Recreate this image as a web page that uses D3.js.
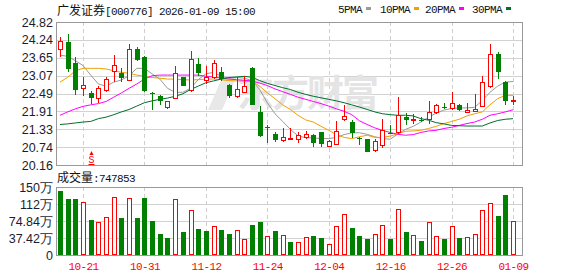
<!DOCTYPE html>
<html>
<head>
<meta charset="utf-8">
<script src="https://cdn.jsdelivr.net/npm/d3@7"></script>
<style>
  body { margin: 0; background: #fff; }
  svg { display: block; }
</style>
</head>
<body>
<svg id="chart"></svg>
<script>

// trading days shown on the chart (2025-10-16 .. 2026-01-09)
var dates = [
    '10-16', '10-17', '10-20', '10-21', '10-22', '10-23', '10-24', '10-27', '10-28', '10-29',
    '10-30', '10-31', '11-03', '11-04', '11-05', '11-06', '11-07', '11-10', '11-11', '11-12',
    '11-13', '11-14', '11-17', '11-18', '11-19', '11-20', '11-21', '11-24', '11-25', '11-26',
    '11-27', '11-28', '12-01', '12-02', '12-03', '12-04', '12-05', '12-08', '12-09', '12-10',
    '12-11', '12-12', '12-15', '12-16', '12-17', '12-18', '12-19', '12-22', '12-23', '12-24',
    '12-25', '12-26', '12-29', '12-30', '12-31', '01-05', '01-06', '01-07', '01-08', '01-09'
];

var opens = [
    23.94, 24.18, 23.47, 22.67, 22.51, 22.35, 22.62, 23.22, 23.16, 22.92,
    23.94, 23.67, 22.51, 22.42, 22.06, 22.35, 23.02, 22.62, 23.45, 22.94,
    23.02, 23.18, 22.78, 22.40, 22.55, 23.31, 21.89, 21.40, 21.18, 20.99,
    21.01, 21.02, 21.08, 21.13, 21.22, 20.77, 20.86, 21.67, 21.56, 21.04,
    21.00, 20.64, 20.81, 21.20, 21.22, 21.72, 21.64, 21.64, 21.65, 21.89,
    22.04, 22.01, 22.12, 21.89, 21.92, 22.08, 22.73, 23.77, 22.88, 22.23
];
var highs = [
    24.33, 24.42, 23.67, 23.04, 22.56, 22.75, 23.02, 23.74, 23.32, 24.10,
    24.02, 23.72, 22.53, 22.44, 22.26, 23.40, 23.04, 23.86, 23.64, 23.37,
    23.59, 23.36, 22.80, 23.04, 23.05, 23.36, 22.07, 21.45, 21.24, 21.35,
    21.37, 21.24, 21.26, 21.18, 21.24, 20.97, 21.58, 22.12, 21.64, 21.08,
    21.02, 21.00, 21.67, 21.45, 22.37, 21.86, 21.83, 21.74, 22.26, 22.16,
    22.19, 22.55, 22.16, 22.19, 22.48, 23.07, 24.10, 23.83, 22.89, 22.42
];
var lows = [
    23.67, 23.18, 22.45, 22.42, 22.15, 22.19, 22.53, 22.88, 22.85, 22.89,
    23.54, 22.55, 21.96, 22.12, 21.99, 22.32, 22.73, 22.55, 23.07, 22.80,
    22.96, 22.91, 22.34, 22.34, 22.51, 22.10, 21.08, 20.88, 20.91, 20.91,
    21.00, 20.88, 21.00, 20.75, 20.75, 20.75, 20.81, 21.58, 21.04, 20.81,
    20.57, 20.57, 20.73, 21.16, 21.18, 21.45, 21.48, 21.56, 21.51, 21.81,
    21.99, 21.96, 21.91, 21.86, 21.91, 22.05, 22.66, 22.96, 22.12, 22.10
];
var closes = [
    24.21, 23.29, 22.62, 22.77, 22.34, 22.68, 22.96, 23.42, 22.99, 23.94,
    23.58, 22.56, 22.46, 22.24, 22.23, 23.16, 22.75, 23.61, 23.15, 23.04,
    23.47, 22.96, 22.42, 22.64, 22.75, 22.12, 21.11, 21.38, 20.97, 21.06,
    21.05, 21.15, 21.18, 20.88, 20.85, 20.94, 21.28, 21.76, 21.21, 21.02,
    20.59, 20.94, 21.31, 21.18, 21.80, 21.62, 21.67, 21.58, 21.89, 22.10,
    22.01, 22.19, 21.94, 21.94, 21.99, 22.86, 23.77, 23.18, 22.26, 22.29
];

var ma5 = [
    23.74, 23.70, 23.56, 23.40, 23.09, 22.80, 22.73, 22.86, 22.93, 23.07,
    23.31, 23.31, 23.13, 22.96, 22.66, 22.53, 22.53, 22.66, 22.94, 23.13,
    23.18, 23.05, 22.99, 23.01, 22.99, 22.91, 22.62, 22.19, 21.83, 21.58,
    21.32, 21.11, 21.05, 21.04, 21.02, 21.02, 21.06, 21.15, 21.21, 21.21,
    21.16, 21.08, 21.02, 21.00, 21.17, 21.32, 21.42, 21.56, 21.72, 21.85,
    21.95, 22.00, 22.02, 22.02, 22.04, 22.26, 22.53, 22.73, 22.86, 22.88
];
var ma10 = [
    22.86, 23.02, 23.23, 23.31, 23.31, 23.31, 23.29, 23.23, 23.18, 23.15,
    23.09, 23.05, 23.01, 22.99, 22.96, 22.96, 22.94, 22.93, 22.94, 22.96,
    22.96, 22.94, 22.91, 22.90, 22.89, 22.88, 22.73, 22.51, 22.32, 22.12,
    21.97, 21.78, 21.63, 21.56, 21.42, 21.29, 21.15, 21.06, 21.02, 21.08,
    21.13, 21.06, 21.06, 21.10, 21.18, 21.26, 21.27, 21.29, 21.35, 21.42,
    21.51, 21.58, 21.65, 21.76, 21.83, 21.89, 22.12, 22.32, 22.43, 22.43
];
var ma20 = [
    21.78, 21.89, 21.99, 22.07, 22.12, 22.16, 22.23, 22.37, 22.51, 22.66,
    22.80, 22.96, 23.07, 23.09, 23.09, 23.09, 23.09, 23.09, 23.09, 23.05,
    23.03, 22.99, 22.96, 22.94, 22.92, 22.90, 22.83, 22.75, 22.64, 22.55,
    22.46, 22.37, 22.30, 22.23, 22.16, 22.08, 21.99, 21.91, 21.80, 21.60,
    21.48, 21.37, 21.29, 21.22, 21.16, 21.13, 21.15, 21.22, 21.27, 21.29,
    21.35, 21.39, 21.45, 21.51, 21.56, 21.65, 21.78, 21.83, 21.89, 21.96
];
var ma30 = [
    21.48, 21.50, 21.53, 21.56, 21.58, 21.67, 21.72, 21.80, 21.89, 21.97,
    22.08, 22.19, 22.25, 22.30, 22.34, 22.40, 22.48, 22.62, 22.73, 22.84,
    22.90, 22.96, 23.01, 23.03, 23.05, 23.02, 22.91, 22.82, 22.75, 22.68,
    22.62, 22.53, 22.46, 22.40, 22.35, 22.30, 22.25, 22.19, 22.12, 22.05,
    21.97, 21.89, 21.83, 21.80, 21.78, 21.78, 21.76, 21.67, 21.62, 21.54,
    21.50, 21.45, 21.44, 21.43, 21.43, 21.43, 21.53, 21.61, 21.65, 21.67
];

// volume in 万 (10k lots), colour by close vs previous close: R up, G down
var volumes = [
    140.9, 123.3, 123.3, 117.4, 77.0, 71.9, 82.9, 126.9, 81.4, 124.7,
    81.4, 124.7, 74.8, 46.2, 37.4, 123.3, 50.6, 98.3, 57.2, 52.8,
    63.1, 54.3, 46.2, 54.3, 34.5, 65.3, 71.9, 41.1, 52.1, 43.3,
    27.9, 29.3, 38.9, 41.8, 37.4, 23.5, 63.1, 89.5, 59.4, 41.8,
    35.2, 45.5, 65.3, 35.2, 101.3, 50.6, 43.3, 30.8, 71.9, 41.1,
    35.2, 63.1, 37.4, 38.9, 45.5, 98.3, 113.7, 85.8, 132.1, 74.79
];
var volumeDir = 'GGGRGRRRGR' + 'GGGGGRGRGG' + 'RGGRRGGRGR' +
                'GRRGGRRRGG' + 'GRRGRGRGRR' + 'GRGRRRRGGR';

var priceTicks = [20.16, 20.7425, 21.325, 21.9075, 22.49, 23.0725, 23.655, 24.2375, 24.82];
var priceLabels = ['20.16', '20.74', '21.33', '21.91', '22.49', '23.07', '23.65', '24.24', '24.82'];
var volumeTicks = [0, 37.42, 74.84, 112.26, 149.68];
var volumeLabels = ['0', '37.42万', '74.84万', '112万', '150万'];
var dateTicks = ['10-21', '10-31', '11-12', '11-24', '12-04', '12-16', '12-26', '01-09'];

var maSeries = [
    { name: '5PMA', values: ma5, color: '#9a9a9a' },
    { name: '10PMA', values: ma10, color: '#f0a000' },
    { name: '20PMA', values: ma20, color: '#ff00ff' },
    { name: '30PMA', values: ma30, color: '#006e2e' }
];

var RED = '#ff0000';
var GREEN = '#008000';

var config = {
    width: 578,
    height: 276,
    left: 56,
    right: 522,
    priceTop: 22,
    priceBottom: 165,
    volTop: 187,
    volBottom: 255
};

var svg = d3.select('#chart')
    .attr('width', config.width)
    .attr('height', config.height)
    .style('font-family', 'Arial, "Liberation Sans", sans-serif');

var x = d3.scalePoint().domain(dates).range([60, 513]);
var y = d3.scaleLinear().domain([20.16, 24.82]).range([config.priceBottom, config.priceTop]);
var yVol = d3.scaleLinear().domain([0, 149.68]).range([config.volBottom, config.volTop]);

var candles = dates.map(function (d, i) {
    return { date: d, open: opens[i], high: highs[i], low: lows[i], close: closes[i] };
});

/**
 * Grid lines and frame for one panel
 */
function drawPanel(top, bottom, scale, ticks) {
    var g = svg.append('g').attr('class', 'panel');

    g.selectAll('.hgrid').data(ticks.slice(1, -1)).enter()
        .append('line')
        .attr('x1', config.left).attr('x2', config.right)
        .attr('y1', function (d) { return Math.round(scale(d)) + 0.5; })
        .attr('y2', function (d) { return Math.round(scale(d)) + 0.5; })
        .attr('stroke', '#d2d2d2');

    g.selectAll('.vgrid').data(dateTicks).enter()
        .append('line')
        .attr('x1', function (d) { return Math.round(x(d)) + 0.5; })
        .attr('x2', function (d) { return Math.round(x(d)) + 0.5; })
        .attr('y1', top).attr('y2', bottom)
        .attr('stroke', '#cfcfcf')
        .attr('stroke-dasharray', '4,3');

    g.append('rect')
        .attr('x', config.left + 0.5).attr('y', top + 0.5)
        .attr('width', config.right - config.left)
        .attr('height', bottom - top)
        .attr('fill', 'none')
        .attr('stroke', '#999');
    return g;
}

drawPanel(config.priceTop, config.priceBottom, y, priceTicks);
drawPanel(config.volTop, config.volBottom, yVol, volumeTicks);

// watermark
svg.append('text')
    .attr('x', 237).attr('y', 107)
    .attr('font-family', '"Noto Sans CJK SC", sans-serif')
    .attr('font-size', 37)
    .attr('font-weight', 'bold')
    .attr('fill', '#e4e4e4')
    .attr('letter-spacing', -2)
    .text('东方财富');
svg.append('path')
    .attr('d', 'M222,78 L236,78 L222,110 L208,110 Z')
    .attr('fill', '#e8e8e8');

// axes
var priceAxis = svg.append('g')
    .attr('transform', 'translate(' + config.left + ',0)')
    .call(d3.axisLeft(y).tickValues(priceTicks)
        .tickFormat(function (d, i) { return priceLabels[i]; })
        .tickSize(0).tickPadding(3));
var volAxis = svg.append('g')
    .attr('transform', 'translate(' + config.left + ',0)')
    .call(d3.axisLeft(yVol).tickValues(volumeTicks)
        .tickFormat(function (d, i) { return volumeLabels[i]; })
        .tickSize(0).tickPadding(3));
[priceAxis, volAxis].forEach(function (a) {
    a.select('.domain').remove();
    a.selectAll('text')
        .attr('font-family', 'Arial, "Liberation Sans", sans-serif')
        .attr('font-size', 12.5)
        .attr('fill', '#1c1c30');
});

var dateAxis = svg.append('g')
    .attr('transform', 'translate(0,' + config.volBottom + ')')
    .call(d3.axisBottom(x).tickValues(dateTicks).tickSize(0).tickPadding(0));
dateAxis.select('.domain').remove();
dateAxis.selectAll('text')
    .attr('y', 15).attr('dy', 0)
    .attr('font-family', '"Liberation Mono", monospace')
    .attr('font-size', 11)
    .attr('letter-spacing', -0.6)
    .attr('fill', RED);

// moving averages
var maLine = d3.line()
    .x(function (v, i) { return x(dates[i]); })
    .y(function (v) { return y(v); });

svg.append('g').attr('class', 'ma')
    .selectAll('path').data(maSeries).enter()
    .append('path')
    .attr('d', function (s) { return maLine(s.values); })
    .attr('fill', 'none')
    .attr('stroke', function (s) { return s.color; })
    .attr('stroke-width', 1);

// candles
var candleG = svg.append('g').attr('class', 'candles')
    .selectAll('g').data(candles).enter()
    .append('g');

candleG.append('line')
    .attr('x1', function (d) { return Math.round(x(d.date)) + 0.5; })
    .attr('x2', function (d) { return Math.round(x(d.date)) + 0.5; })
    .attr('y1', function (d) { return Math.round(y(d.high)); })
    .attr('y2', function (d) { return Math.round(y(d.low)); })
    .attr('stroke', function (d) { return d.close >= d.open ? RED : GREEN; });

candleG.append('rect')
    .each(function (d) {
        var cx = Math.round(x(d.date));
        var top = Math.round(y(Math.max(d.open, d.close)));
        var h = Math.max(1, Math.round(y(Math.min(d.open, d.close))) - top);
        var el = d3.select(this);
        if (d.close >= d.open) {
            el.attr('x', cx - 1.5).attr('y', top + 0.5)
                .attr('width', 4).attr('height', h)
                .attr('fill', '#fff').attr('stroke', RED);
        } else {
            el.attr('x', cx - 2).attr('y', top)
                .attr('width', 5).attr('height', h)
                .attr('fill', GREEN);
        }
    });

// volume bars
svg.append('g').attr('class', 'volume')
    .selectAll('rect').data(volumes).enter()
    .append('rect')
    .each(function (v, i) {
        var cx = Math.round(x(dates[i]));
        var top = Math.round(yVol(v));
        var el = d3.select(this);
        if (volumeDir[i] === 'R') {
            el.attr('x', cx - 1.5).attr('y', top + 0.5)
                .attr('width', 4).attr('height', config.volBottom - top - 1)
                .attr('fill', '#fff').attr('stroke', RED);
        } else {
            el.attr('x', cx - 2).attr('y', top)
                .attr('width', 5).attr('height', config.volBottom - top)
                .attr('fill', GREEN);
        }
    });

// sell marker under 10-22
var sx = Math.round(x('10-22')) + 0.5;
svg.append('path')
    .attr('d', 'M' + (sx - 2) + ',155 L' + sx + ',151 L' + (sx + 2) + ',155 Z')
    .attr('fill', RED);
svg.append('text')
    .attr('x', sx).attr('y', 163)
    .attr('text-anchor', 'middle')
    .attr('font-family', '"Liberation Mono", monospace')
    .attr('font-size', 10)
    .attr('text-decoration', 'underline')
    .attr('fill', RED)
    .text('S');

// title and volume caption
function caption(xPos, yPos, cjk, rest) {
    var t = svg.append('text')
        .attr('x', xPos).attr('y', yPos)
        .attr('fill', '#111');
    t.append('tspan')
        .attr('font-family', '"Noto Sans CJK SC", sans-serif')
        .attr('font-size', 12)
        .text(cjk);
    t.append('tspan')
        .attr('font-family', '"Liberation Mono", monospace')
        .attr('font-size', 11)
        .attr('letter-spacing', -0.6)
        .text(rest);
}
caption(57, 15, '广发证券', '[000776] 2026-01-09 15:00');
caption(57, 182, '成交量', ':747853');

// legend
var legendX = [338, 380, 425, 472];
var legend = svg.append('g').attr('class', 'legend')
    .selectAll('g').data(maSeries).enter()
    .append('g')
    .attr('transform', function (s, i) { return 'translate(' + legendX[i] + ',0)'; });
legend.append('text')
    .attr('y', 13)
    .attr('font-family', '"Liberation Mono", monospace')
    .attr('font-size', 11)
    .attr('letter-spacing', -0.6)
    .attr('fill', '#111')
    .text(function (s) { return s.name; });
legend.append('rect')
    .attr('x', function (s) { return s.name.length * 6 + 4; })
    .attr('y', 7)
    .attr('width', 5).attr('height', 3)
    .attr('fill', function (s) { return s.color; });

</script>
</body>
</html>
